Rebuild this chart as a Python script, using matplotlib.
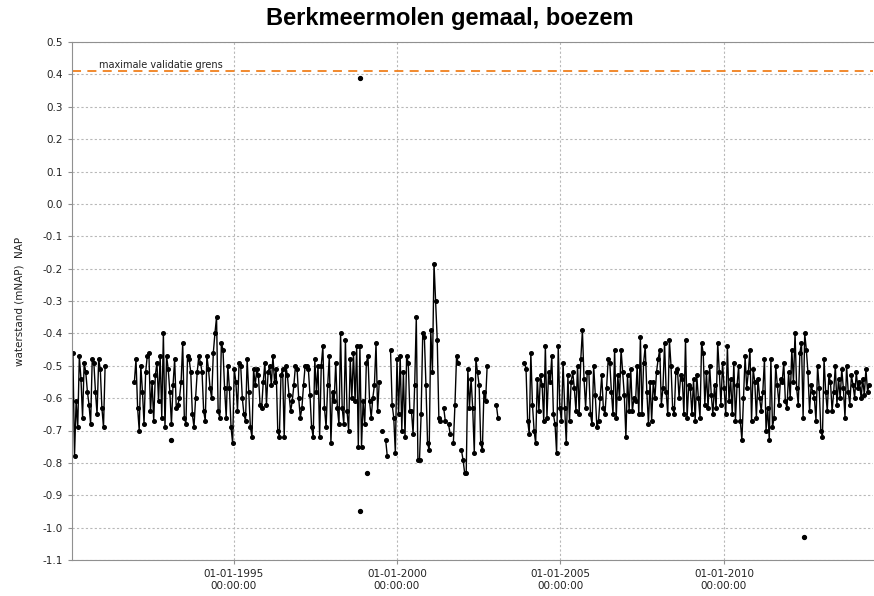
import numpy as np
import pandas as pd
import matplotlib
matplotlib.use('Agg')
import matplotlib.pyplot as plt

nan = np.nan

# waterstand boezem (mNAP), one reading about every 18 days
seg1_start = '1990-02-01'
seg1 = [-0.46, -0.78, -0.61, -0.69, -0.47, -0.54, -0.66, -0.49, -0.52, -0.58, -0.62,
        -0.68, -0.48, -0.49, -0.58, -0.65, -0.48, -0.51, -0.63, -0.69, -0.50]

seg2_start = '1991-12-20'
seg2 = [
    -0.55, -0.48, -0.63, -0.70, -0.50, -0.58, -0.68, -0.52, -0.47, -0.46, -0.64, -0.55, -0.67, -0.53, -0.49, -0.61, -0.47, -0.66, -0.40, -0.69,
    -0.47, -0.51, -0.58, -0.68, -0.56, -0.48, -0.63, -0.62, -0.60, -0.55, -0.43, -0.66, -0.68, -0.47, -0.48, -0.52, -0.65, -0.69, -0.60, -0.52,
    -0.47, -0.49, -0.52, -0.64, -0.67, -0.47, -0.51, -0.57, -0.60, -0.46, -0.40, -0.35, -0.64, -0.66, -0.43, -0.45, -0.57, -0.66, -0.50, -0.57,
    -0.69, -0.74, -0.51, -0.55, -0.64, -0.49, -0.50, -0.60, -0.65, -0.67, -0.48, -0.58, -0.69, -0.72, -0.51, -0.56, -0.51, -0.53, -0.62, -0.63,
    -0.55, -0.49, -0.62, -0.52, -0.50, -0.56, -0.47, -0.55, -0.51, -0.70, -0.72, -0.53, -0.51, -0.72, -0.50, -0.53, -0.59, -0.64, -0.61, -0.56,
    -0.50, -0.51, -0.60, -0.66, -0.63, -0.56, -0.50, -0.50, -0.51, -0.59, -0.69, -0.72, -0.48, -0.58, -0.50, -0.72, -0.50, -0.44, -0.63, -0.69,
    -0.56, -0.47, -0.74, -0.58, -0.61, -0.49, -0.63, -0.68, -0.40, -0.63, -0.68, -0.42, -0.64, -0.70, -0.48, -0.60, -0.46, -0.61, -0.44, -0.75,
    -0.44, -0.75, -0.61, -0.68, -0.49, -0.47, -0.61, -0.66, -0.60, -0.56, -0.43, -0.64, -0.55, nan, -0.70, nan, -0.73, -0.78, nan, -0.45,
    -0.62, -0.66, -0.77, -0.48, -0.65, -0.47, -0.70, -0.52, -0.72, -0.47, -0.49, -0.64, -0.64, -0.71, -0.56, -0.35, -0.79, -0.79, -0.65, -0.40,
    -0.41, -0.56, -0.74, -0.76, -0.39, -0.52, -0.185, -0.30, -0.42, -0.66, -0.67, nan, -0.63, -0.67, nan, -0.68, -0.71, nan, -0.74, -0.62,
    -0.47, -0.49, nan, -0.76, -0.79, -0.83, -0.83, -0.51, -0.63, -0.54, -0.63, -0.77, -0.48, -0.52, -0.56, -0.74, -0.76, -0.58, -0.61, -0.50,
]

seg3_start = '2003-01-15'
seg3 = [-0.62, -0.66]

seg4_start = '2003-11-25'
seg4 = [
    -0.49, -0.51, -0.67, -0.71, -0.46, -0.62, -0.70, -0.74, -0.54, -0.64, -0.53, -0.56, -0.67, -0.44, -0.66, -0.52, -0.55, -0.47, -0.65, -0.68,
    -0.77, -0.44, -0.63, -0.67, -0.49, -0.63, -0.74, -0.53, -0.67, -0.55, -0.52, -0.57, -0.64, -0.50, -0.65, -0.48, -0.39, -0.54, -0.63, -0.52,
    -0.52, -0.65, -0.68, -0.50, -0.59, -0.69, -0.67, -0.60, -0.53, -0.63, -0.65, -0.57, -0.48, -0.49, -0.58, -0.65, -0.45, -0.66, -0.53, -0.60,
    -0.45, -0.52, -0.59, -0.72, -0.53, -0.64, -0.51, -0.64, -0.60, -0.61, -0.50, -0.65, -0.41, -0.65, -0.49, -0.44, -0.58, -0.68, -0.55, -0.67,
    -0.55, -0.60, -0.52, -0.48, -0.45, -0.62, -0.57, -0.43, -0.58, -0.65, -0.42, -0.50, -0.63, -0.65, -0.52, -0.51, -0.60, -0.53, -0.54, -0.65,
    -0.42, -0.66, -0.56, -0.57, -0.65, -0.54, -0.67, -0.53, -0.60, -0.66, -0.43, -0.46, -0.62, -0.52, -0.63, -0.50, -0.59, -0.65, -0.56, -0.63,
    -0.43, -0.52, -0.62, -0.49, -0.57, -0.65, -0.44, -0.61, -0.54, -0.65, -0.49, -0.67, -0.56, -0.50, -0.67, -0.73, -0.60, -0.47, -0.57, -0.52,
    -0.45, -0.67, -0.51, -0.55, -0.66, -0.54, -0.60, -0.64, -0.58, -0.48, -0.70, -0.63, -0.73, -0.48, -0.69, -0.66, -0.50, -0.56, -0.62, -0.54,
    -0.55, -0.49, -0.61, -0.63, -0.52, -0.60, -0.45, -0.55, -0.40, -0.57, -0.62, -0.46, -0.43, -0.66, -0.40, -0.45, -0.52, -0.64, -0.56, -0.58,
    -0.60, -0.67, -0.50, -0.57, -0.70, -0.72, -0.48, -0.58, -0.64, -0.53, -0.55, -0.64, -0.58, -0.50, -0.62, -0.54, -0.60, -0.51, -0.57, -0.66,
    -0.50, -0.58, -0.62, -0.53, -0.56, -0.60, -0.52, -0.57, -0.55, -0.60, -0.54, -0.59, -0.51, -0.58, -0.56,
]

# losse metingen
loose_dates = ['1993-02-05', '1998-11-13', '1998-11-13', '1999-01-30', '2012-06-10']
loose_vals = [-0.73, 0.39, -0.95, -0.83, -1.03]

grens = 0.41
grens_label = 'maximale validatie grens'
tick_years = ['1995-01-01', '2000-01-01', '2005-01-01', '2010-01-01']
yticks = [-1.1, -1.0, -0.9, -0.8, -0.7, -0.6, -0.5, -0.4, -0.3, -0.2, -0.1, 0.0, 0.1, 0.2, 0.3, 0.4, 0.5]

fig = plt.figure(figsize=(8.74, 5.96), dpi=100)
ax = fig.add_axes([72 / 874, 36 / 596, 801 / 874, 518 / 596])

style = dict(color='black', lw=1.0, marker='o', ms=2.6, mfc='black', mec='black')
for start, vals in [(seg1_start, seg1), (seg2_start, seg2), (seg3_start, seg3), (seg4_start, seg4)]:
    dates = pd.date_range(start, periods=len(vals), freq='18D')
    ax.plot(dates, vals, **style)
ax.plot(pd.to_datetime(loose_dates), loose_vals, ls='none', marker='o', ms=2.8, color='black')

ax.axhline(grens, color='#f0801e', lw=1.3, ls=(0, (5, 3.5)), zorder=1)
ax.text(pd.Timestamp('1990-11-25'), grens + 0.004, grens_label, fontsize=7, va='bottom', ha='left', color='#222222')

ax.set_xlim(pd.Timestamp('1990-01-22'), pd.Timestamp('2014-07-25'))
ax.set_ylim(-1.1, 0.5)
ax.set_yticks(yticks)
ax.set_yticklabels(['%.1f' % (round(v, 1) + 0.0) for v in yticks])
ax.set_xticks(pd.to_datetime(tick_years))
ax.set_xticklabels([pd.Timestamp(d).strftime('%d-%m-%Y') + '\n00:00:00' for d in tick_years])

ax.grid(True, color='#b8b8b8', ls=(0, (2, 2)), lw=0.8)
ax.set_axisbelow(True)
for s in ax.spines.values():
    s.set_color('#909090')
ax.spines['right'].set_visible(False)
ax.tick_params(axis='both', labelsize=7.5, colors='#909090', labelcolor='#222222', length=3)

fig.text(20 / 874, 1 - 301 / 596, 'waterstand (mNAP)  NAP', rotation=90, fontsize=7.5,
         ha='center', va='center', color='#222222')
fig.text(450 / 874, 1 - 19 / 596, 'Berkmeermolen gemaal, boezem', fontsize=17, fontweight='bold',
         family='Liberation Sans', ha='center', va='center')

fig.savefig('out.png', dpi=100)
